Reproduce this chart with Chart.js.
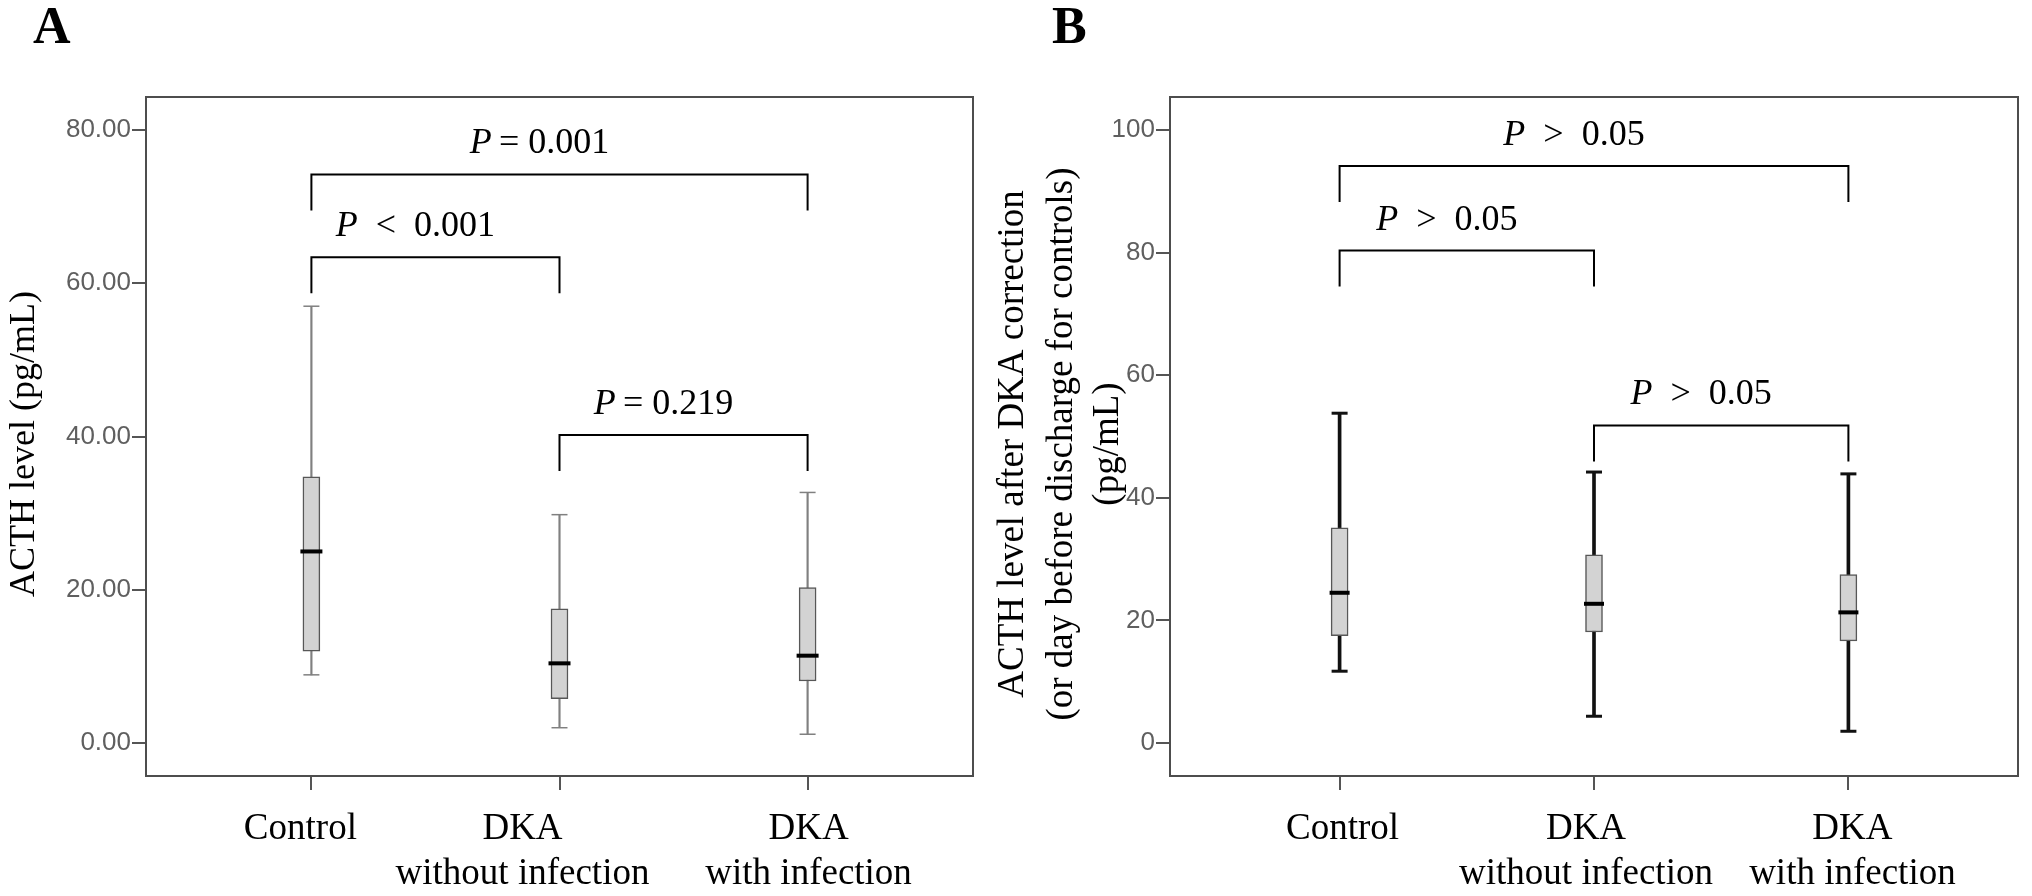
<!DOCTYPE html>
<html>
<head>
<meta charset="utf-8">
<script src="https://cdn.jsdelivr.net/npm/chart.js@4.4.1/dist/chart.umd.min.js"></script>
<style>
  body { margin: 0; background: #fff; }
  #wrap { position: relative; width: 2032px; height: 896px; }
  canvas { position: absolute; top: 0; }
</style>
</head>
<body>
<div id="wrap">
  <canvas id="chartA" width="988" height="896" style="left:0;width:988px;height:896px"></canvas>
  <canvas id="chartB" width="1044" height="896" style="left:988px;width:1044px;height:896px"></canvas>
</div>
<script>
// Groups on the x axis
const categories = [['Control'], ['DKA', 'without infection'], ['DKA', 'with infection']];

// Panel A: ACTH level at admission (pg/mL)
const acthMin = [8.9, 2.0, 1.15];
const acthQ1 = [12.0, 5.8, 8.1];
const acthMedian = [25.0, 10.4, 11.4];
const acthQ3 = [34.75, 17.5, 20.3];
const acthMax = [57.0, 29.8, 32.7];
const ticksA = [0, 20, 40, 60, 80];

// Panel B: ACTH level after DKA correction (pg/mL)
const afterMin = [11.7, 4.35, 1.9];
const afterQ1 = [17.5, 18.1, 16.65];
const afterMedian = [24.5, 22.7, 21.3];
const afterQ3 = [35.1, 30.7, 27.45];
const afterMax = [53.8, 44.2, 43.9];
const ticksB = [0, 20, 40, 60, 80, 100];

// Significance brackets (group index pairs, bracket height, p text)
const pairsA = [[0, 2], [0, 1], [1, 2]];
const levelsA = [74.2, 63.4, 40.2];
const pTextA = ['= 0.001', '< 0.001', '= 0.219'];
const pairsB = [[0, 2], [0, 1], [1, 2]];
const levelsB = [94.15, 80.35, 51.8];
const pTextB = ['> 0.05', '> 0.05', '> 0.05'];

const SERIF = '"Liberation Serif", "Times New Roman", serif';
const SANS = '"Liberation Sans", Arial, sans-serif';

function boxDatasets(mins, q1, med, q3, maxs, st) {
    const pts = arr => arr.map((v, i) => ({ x: i + 1, y: v }));
    return [
        {
            type: 'scatter', data: pts(med), order: 0,
            pointStyle: 'line', pointRadius: st.medianHalf, pointHoverRadius: st.medianHalf,
            borderColor: '#000', pointBorderColor: '#000', pointBorderWidth: 4, borderWidth: 4
        },
        {
            type: 'bar', order: 1, grouped: false,
            data: q1.map((v, i) => ({ x: i + 1, y: [v, q3[i]] })),
            barThickness: 17, backgroundColor: '#d3d3d3',
            borderColor: '#575757', borderWidth: 1.5, borderSkipped: false
        },
        {
            type: 'scatter', data: pts(mins).concat(pts(maxs)), order: 2,
            pointStyle: 'line', pointRadius: 8, pointHoverRadius: 8,
            borderColor: st.whisker, pointBorderColor: st.whisker,
            pointBorderWidth: st.whiskerWidth, borderWidth: st.whiskerWidth
        },
        {
            type: 'bar', order: 3, grouped: false,
            data: mins.map((v, i) => ({ x: i + 1, y: [v, maxs[i]] })),
            barThickness: st.whiskerWidth, backgroundColor: st.whisker, borderWidth: 0
        }
    ];
}

// Frame, brackets, labels and titles
function decorations(cfg) {
    return {
        id: 'decor',
        afterDraw(chart) {
            const { ctx, chartArea: a } = chart;
            const x = chart.scales.x, y = chart.scales.y;
            ctx.save();
            ctx.strokeStyle = '#4d4d4d';
            ctx.lineWidth = 2;
            ctx.strokeRect(a.left, a.top, a.right - a.left, a.bottom - a.top);

            // brackets with p values
            ctx.strokeStyle = '#000';
            ctx.fillStyle = '#000';
            ctx.textBaseline = 'alphabetic';
            ctx.textAlign = 'left';
            cfg.pairs.forEach((p, i) => {
                const x1 = x.getPixelForValue(p[0] + 1);
                const x2 = x.getPixelForValue(p[1] + 1);
                const yy = y.getPixelForValue(cfg.levels[i]);
                ctx.beginPath();
                ctx.moveTo(x1, yy + 36);
                ctx.lineTo(x1, yy);
                ctx.lineTo(x2, yy);
                ctx.lineTo(x2, yy + 36);
                ctx.stroke();

                const s = cfg.texts[i];
                const op = s[0];
                const rest = op === '=' ? '\u2009= ' + s.slice(2) : '\u2002' + op + '\u2002' + s.slice(2);
                ctx.font = 'italic 36px ' + SERIF;
                const wP = ctx.measureText('P').width;
                ctx.font = '36px ' + SERIF;
                const wR = ctx.measureText(rest).width;
                const left = (x1 + x2) / 2 - 20 - (wP + wR) / 2;
                ctx.font = 'italic 36px ' + SERIF;
                ctx.fillText('P', left, yy - 21);
                ctx.font = '36px ' + SERIF;
                ctx.fillText(rest, left + wP, yy - 21);
            });

            // category labels
            ctx.font = '37px ' + SERIF;
            ctx.textAlign = 'center';
            ctx.textBaseline = 'middle';
            categories.forEach((lines, i) => {
                const cx = x.getPixelForValue(i + 1) + cfg.labelShift[i];
                lines.forEach((t, j) => ctx.fillText(t, cx, 829 + j * 45));
            });

            // y axis title
            ctx.font = cfg.titleSize + 'px ' + SERIF;
            cfg.title.forEach((t, j) => {
                ctx.save();
                ctx.translate(cfg.titleX[j], 444);
                ctx.rotate(-Math.PI / 2);
                ctx.fillText(t, 0, 0);
                ctx.restore();
            });

            // panel letter
            ctx.font = 'bold 52px ' + SERIF;
            ctx.textAlign = 'left';
            ctx.textBaseline = 'alphabetic';
            ctx.fillText(cfg.letter, cfg.letterX, 43);
            ctx.restore();
        }
    };
}

function makeChart(id, sets, yMin, yMax, yTicks, fmt, axisWidth, cfg) {
    new Chart(document.getElementById(id), {
        type: 'bar',
        data: { datasets: sets },
        options: {
            responsive: false,
            animation: false,
            devicePixelRatio: 1,
            layout: { padding: { top: 97, right: 5, bottom: 0, left: 0 } },
            plugins: { legend: { display: false }, tooltip: { enabled: false } },
            scales: {
                x: {
                    type: 'linear',
                    min: 1 / 3,
                    max: 11 / 3,
                    offset: false,
                    afterBuildTicks: s => { s.ticks = categories.map((c, i) => ({ value: i + 1 })); },
                    afterFit: s => { s.height = 120; },
                    ticks: { display: false },
                    border: { display: false },
                    grid: { offset: false, drawOnChartArea: false, drawTicks: true, tickLength: 14, color: '#555', lineWidth: 2 }
                },
                y: {
                    min: yMin,
                    max: yMax,
                    afterBuildTicks: s => { s.ticks = yTicks.map(v => ({ value: v })); },
                    afterFit: s => { s.width = axisWidth; },
                    ticks: {
                        callback: fmt,
                        padding: 1,
                        color: '#5f5f5f',
                        font: { family: SANS, size: 26 }
                    },
                    border: { display: false },
                    grid: { drawOnChartArea: false, drawTicks: true, tickLength: 14, color: '#555', lineWidth: 2 }
                }
            }
        },
        plugins: [decorations(cfg)]
    });
}

makeChart('chartA',
    boxDatasets(acthMin, acthQ1, acthMedian, acthQ3, acthMax, { whisker: '#808080', whiskerWidth: 1.5, medianHalf: 11 }),
    -4.3, 84.3, ticksA, v => v.toFixed(2), 146,
    {
        pairs: pairsA, levels: levelsA, texts: pTextA,
        labelShift: [-11, -37, 1],
        title: ['ACTH level (pg/mL)'], titleX: [25], titleSize: 36,
        letter: 'A', letterX: 33
    });

makeChart('chartB',
    boxDatasets(afterMin, afterQ1, afterMedian, afterQ3, afterMax, { whisker: '#111', whiskerWidth: 3, medianHalf: 10 }),
    -5.4, 105.4, ticksB, v => v, 182,
    {
        pairs: pairsB, levels: levelsB, texts: pTextB,
        labelShift: [3, -8, 4],
        title: ['ACTH level after DKA correction', '(or day before discharge for controls)', '(pg/mL)'],
        titleX: [25, 74, 120], titleSize: 37,
        letter: 'B', letterX: 64
    });
</script>
</body>
</html>
